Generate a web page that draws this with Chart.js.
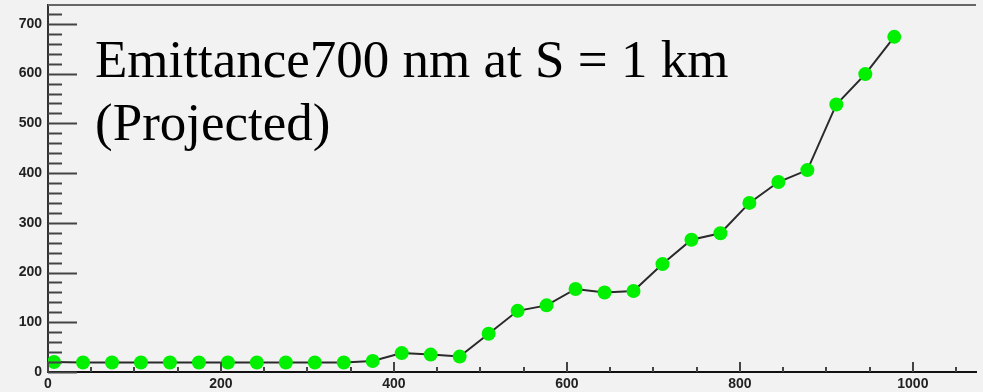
<!DOCTYPE html>
<html>
<head>
<meta charset="utf-8">
<script src="https://cdn.jsdelivr.net/npm/chart.js@4/dist/chart.umd.min.js"></script>
<style>
  html, body { margin: 0; padding: 0; background: #f2f2f2; overflow: hidden; }
  #wrap { width: 983px; height: 392px; overflow: hidden; }
  #c { display: block; margin-top: -2px; }
</style>
</head>
<body>
<div id="wrap"><canvas id="c" width="983" height="394"></canvas></div>
<script>
// positions along the beam (x) and projected emittance (y)
const posX = [7, 40.5, 74, 107.5, 141, 174.5, 208, 241.5, 275, 308.5,
              342, 375.5, 409, 442.5, 476, 509.5, 543, 576.5, 610, 643.5,
              677, 710.5, 744, 777.5, 811, 844.5, 878, 911.5, 945, 978.5]
const emittance = [20, 19, 19, 19, 19, 19, 19, 19, 19, 19,
                   19, 22, 38, 35, 31, 77, 123, 134, 167, 160,
                   163, 217, 266, 279, 340, 382, 406, 538, 599, 674]
const xTickLabels = [0, 200, 400, 600, 800, 1000]
const yTickLabels = [0, 100, 200, 300, 400, 500, 600, 700]
const titleLines = ["Emittance700 nm at S = 1 km", "(Projected)"]

const points = posX.map((x, i) => ({ x: x, y: emittance[i] }))

// ROOT style frame: inward ticks + top border + text inside the pad
const rootFrame = {
    id: "rootFrame",
    afterDatasetsDraw(chart) {
        const ctx = chart.ctx
        const a = chart.chartArea
        const xs = chart.scales.x
        const ys = chart.scales.y
        ctx.save()
        ctx.strokeStyle = "#444"
        ctx.lineWidth = 2
        ctx.beginPath()
        for (let v = 0; v <= ys.max; v += 20) {
            const y = Math.round(ys.getPixelForValue(v)) + 0.5
            const len = v % 100 === 0 ? 29 : 14
            ctx.moveTo(a.left, y)
            ctx.lineTo(a.left + len, y)
        }
        for (let v = 0; v <= xs.max; v += 50) {
            const x = Math.round(xs.getPixelForValue(v))
            const len = v % 200 === 0 ? 10 : 5
            ctx.moveTo(x, a.bottom)
            ctx.lineTo(x, a.bottom - len)
        }
        ctx.stroke()

        ctx.strokeStyle = "#666"
        ctx.lineWidth = 2
        ctx.beginPath()
        ctx.moveTo(a.left, a.top)
        ctx.lineTo(a.right, a.top)
        ctx.stroke()

        ctx.fillStyle = "#000"
        ctx.font = "53px 'Liberation Serif', 'DejaVu Serif', serif"
        ctx.textBaseline = "alphabetic"
        ctx.fillText(titleLines[0], a.left + 47, 79)
        ctx.fillText(titleLines[1], a.left + 47, 142)
        ctx.restore()
    }
}

new Chart(document.getElementById("c"), {
    type: "line",
    data: {
        datasets: [{
            data: points,
            borderColor: "#2a2a2a",
            borderWidth: 2,
            pointRadius: 7,
            pointHoverRadius: 7,
            pointBackgroundColor: "#00f000",
            pointBorderColor: "#00f000",
            pointBorderWidth: 0,
            tension: 0,
            fill: false
        }]
    },
    options: {
        responsive: false,
        animation: false,
        events: [],
        layout: { padding: { top: 0, left: 0, right: 0, bottom: 0 } },
        plugins: { legend: { display: false }, tooltip: { enabled: false } },
        scales: {
            x: {
                type: "linear",
                min: 0,
                max: 1073,
                grid: { display: false, drawTicks: false },
                border: { display: true, color: "#111", width: 2 },
                afterBuildTicks: s => { s.ticks = xTickLabels.map(v => ({ value: v })) },
                afterFit: s => { s.height = 20; s.paddingLeft = 0; s.paddingRight = 0 },
                ticks: {
                    padding: 4,
                    color: "#222",
                    maxRotation: 0,
                    callback: v => String(v),
                    font: { family: "'Liberation Sans', Arial, sans-serif", size: 14, weight: "bold" }
                }
            },
            y: {
                min: 0,
                max: 738,
                grid: { display: false, drawTicks: false },
                border: { display: true, color: "#333", width: 2 },
                afterBuildTicks: s => { s.ticks = yTickLabels.map(v => ({ value: v })) },
                afterFit: s => { s.width = 48; s.paddingTop = 0; s.paddingBottom = 0 },
                ticks: {
                    padding: 6,
                    color: "#222",
                    callback: v => String(v),
                    font: { family: "'Liberation Sans', Arial, sans-serif", size: 14, weight: "bold" }
                }
            }
        }
    },
    plugins: [rootFrame]
})
</script>
</body>
</html>
